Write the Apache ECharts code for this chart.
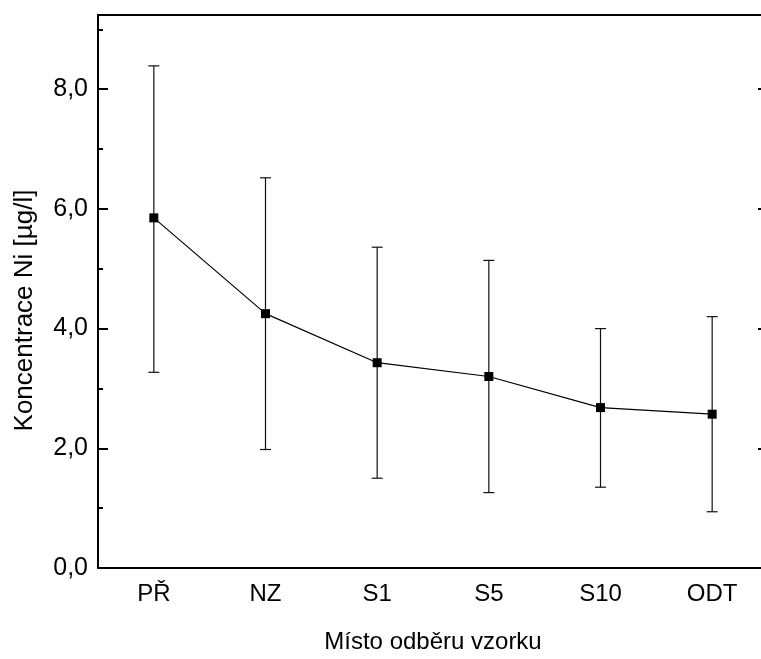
<!DOCTYPE html>
<html>
<head>
<meta charset="utf-8">
<script src="https://cdn.jsdelivr.net/npm/echarts@6/dist/echarts.min.js"></script>
<style>html,body{margin:0;padding:0;background:#fff;overflow:hidden;width:761px;height:659px;}#c{width:775px;height:659px;}</style>
</head>
<body>
<div id="c"></div>
<script>
const categories = ['PŘ', 'NZ', 'S1', 'S5', 'S10', 'ODT'];
const means = [5.85, 4.25, 3.43, 3.20, 2.68, 2.57];
const upper = [8.39, 6.52, 5.36, 5.14, 4.00, 4.20];
const lower = [3.27, 1.98, 1.50, 1.26, 1.35, 0.94];
const yMin = 0, yMax = 9.24;
const xTitle = 'Místo odběru vzorku';
const yTitle = 'Koncentrace Ni [µg/l]';

const FONT = '"Liberation Sans", Arial, sans-serif';
const chart = echarts.init(document.getElementById('c'), null, {renderer: 'canvas'});
const errData = categories.map((c, i) => [i, lower[i], upper[i]]);

const lineW = 2;
function yAx(pos, interval, len, showLine, showLabel, extra) {
  return Object.assign({
    type: 'value', position: pos, min: yMin, max: yMax, interval: interval,
    axisLine: {show: showLine, onZero: false, lineStyle: {color: '#000', width: lineW}},
    axisTick: {show: true, inside: true, length: len, lineStyle: {color: '#000', width: 2}},
    axisLabel: {show: showLabel, showMaxLabel: false, color: '#000', fontSize: 25, fontFamily: FONT, margin: 10,
      formatter: v => v.toFixed(1).replace('.', ',')},
    splitLine: {show: false}
  }, extra || {});
}

chart.setOption({
  animation: false,
  grid: {left: 98, top: 15, bottom: 87, width: 670, containLabel: false},
  xAxis: [
    {type: 'category', data: categories, position: 'bottom', boundaryGap: true,
      axisLine: {onZero: false, lineStyle: {color: '#000', width: lineW}},
      axisTick: {inside: true, alignWithLabel: true, length: 11, lineStyle: {color: '#000', width: 2}},
      axisLabel: {color: '#000', fontSize: 24, fontFamily: FONT, margin: 14},
      name: xTitle, nameLocation: 'middle', nameGap: 62,
      nameTextStyle: {color: '#000', fontSize: 24, fontFamily: FONT}},
    {type: 'category', data: categories, position: 'top', boundaryGap: true,
      axisLine: {onZero: false, lineStyle: {color: '#000', width: lineW}},
      axisTick: {inside: true, alignWithLabel: true, length: 12, lineStyle: {color: '#000', width: 2}},
      axisLabel: {show: false}}
  ],
  yAxis: [
    yAx('left', 2, 10, true, true, {
      name: yTitle, nameLocation: 'middle', nameGap: 60,
      nameTextStyle: {color: '#000', fontSize: 26, fontFamily: FONT, padding: [0, 38, 0, 0]}}),
    yAx('right', 2, 10, true, false),
    yAx('left', 1, 5, false, false),
    yAx('right', 1, 5, false, false)
  ],
  series: [
    {type: 'custom', xAxisIndex: 0, yAxisIndex: 0, data: errData, z: 1,
      renderItem: function (params, api) {
        const x = api.value(0);
        const lo = api.coord([x, api.value(1)]);
        const hi = api.coord([x, api.value(2)]);
        const hw = 5.5;
        const st = {stroke: '#111', lineWidth: 1.2};
        return {type: 'group', children: [
          {type: 'line', shape: {x1: lo[0], y1: lo[1], x2: hi[0], y2: hi[1]}, style: st},
          {type: 'line', shape: {x1: lo[0] - hw, y1: lo[1], x2: lo[0] + hw, y2: lo[1]}, style: st},
          {type: 'line', shape: {x1: hi[0] - hw, y1: hi[1], x2: hi[0] + hw, y2: hi[1]}, style: st}
        ]};
      }},
    {type: 'line', xAxisIndex: 0, yAxisIndex: 0, data: means, z: 3,
      symbol: 'rect', symbolSize: 9, showAllSymbol: true,
      lineStyle: {color: '#000', width: 1.2},
      itemStyle: {color: '#000', borderWidth: 0}}
  ]
});
</script>
</body>
</html>
